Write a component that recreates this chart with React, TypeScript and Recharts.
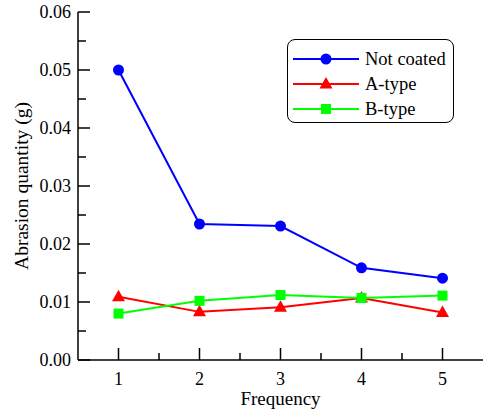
import React from "react";
import { LineChart, Line, XAxis, YAxis, Legend, Label } from "recharts";

const frequency = [1, 2, 3, 4, 5];
const notCoated = [0.05, 0.02345, 0.0231, 0.0159, 0.0141];
const aType = [0.0109, 0.0083, 0.0091, 0.0107, 0.0082];
const bType = [0.008, 0.0102, 0.0112, 0.0107, 0.0111];

const xTicks = [1, 1.5, 2, 2.5, 3, 3.5, 4, 4.5, 5];
const yTicks = [0, 0.005, 0.01, 0.015, 0.02, 0.025, 0.03, 0.035, 0.04, 0.045, 0.05, 0.055, 0.06];

const seriesNames = ["Not coated", "A-type", "B-type"];
const seriesColors = ["#0000ff", "#ff0000", "#00ff00"];

const data = frequency.map((f, i) => ({
  f,
  nc: notCoated[i],
  a: aType[i],
  b: bType[i],
}));

const FONT = "'Liberation Serif', 'Times New Roman', serif";

const Circle = (props: any) => {
  const { cx, cy, fill } = props;
  if (cx == null || cy == null) return null;
  return <circle cx={cx} cy={cy} r={5.5} fill={fill} />;
};
const Tri = (props: any) => {
  const { cx, cy, fill } = props;
  if (cx == null || cy == null) return null;
  return <polygon points={`${cx},${cy - 7} ${cx + 6.5},${cy + 4.5} ${cx - 6.5},${cy + 4.5}`} fill={fill} />;
};
const Sq = (props: any) => {
  const { cx, cy, fill } = props;
  if (cx == null || cy == null) return null;
  return <rect x={cx - 5} y={cy - 5} width={10} height={10} fill={fill} />;
};

const XTick = (props: any) => {
  const { x, y, payload } = props;
  const v = payload.value;
  const major = Math.abs(v - Math.round(v)) < 1e-6;
  return (
    <g>
      <line x1={x} x2={x} y1={y} y2={y - (major ? 12 : 7)} stroke="#000" strokeWidth={1.5} />
      {major && (
        <text x={x} y={y + 25} textAnchor="middle" fontSize={18} fontFamily={FONT} fill="#000">
          {v}
        </text>
      )}
    </g>
  );
};

const YTick = (props: any) => {
  const { x, y, payload } = props;
  const v = payload.value;
  const major = Math.abs(v * 100 - Math.round(v * 100)) < 1e-6;
  return (
    <g>
      <line x1={x} x2={x + (major ? 12 : 8)} y1={y} y2={y} stroke="#000" strokeWidth={1.5} />
      {major && (
        <text x={x - 7} y={y} dy="0.35em" textAnchor="end" fontSize={18} fontFamily={FONT} fill="#000">
          {v.toFixed(2)}
        </text>
      )}
    </g>
  );
};

const LegendBox = () => {
  const markers = [
    (c: string) => <circle cx={33} cy={9} r={5.5} fill={c} />,
    (c: string) => <polygon points={`33,2 39.5,13.5 26.5,13.5`} fill={c} />,
    (c: string) => <rect x={28} y={4} width={10} height={10} fill={c} />,
  ];
  return (
    <div
      style={{
        border: "1.5px solid #000",
        borderRadius: 8,
        width: 167,
        height: 84,
        boxSizing: "border-box",
        padding: "6px 0 0 5px",
        fontFamily: FONT,
        fontSize: 18.5,
        background: "#fff",
        textAlign: "left",
      }}
    >
      {seriesNames.map((n, i) => (
        <div key={n} style={{ display: "flex", alignItems: "center", height: 25 }}>
          <svg width={72} height={18} style={{ display: "block" }}>
            <line x1={0} x2={66} y1={9} y2={9} stroke={seriesColors[i]} strokeWidth={2} />
            {markers[i](seriesColors[i])}
          </svg>
          <span style={{ lineHeight: "18px" }}>{n}</span>
        </div>
      ))}
    </div>
  );
};

export default function App() {
  return (
    <div style={{ position: "absolute", left: 0, top: 0, background: "#fff" }}>
      <LineChart
        width={488}
        height={413}
        data={data}
        margin={{ top: 12, right: 5, bottom: 0, left: 0 }}
      >
        <XAxis
          dataKey="f"
          type="number"
          domain={[0.5, 5.5]}
          ticks={xTicks}
          interval={0}
          height={53}
          tickSize={0}
          tickMargin={0}
          tickLine={false}
          axisLine={{ stroke: "#000", strokeWidth: 1.5 }}
          tick={<XTick />}
        >
          <Label
            content={(p: any) => {
              const vb = p.viewBox;
              return (
                <text x={vb.x + vb.width / 2} y={vb.y + 45} textAnchor="middle" fontSize={19} fontFamily={FONT} fill="#000">
                  Frequency
                </text>
              );
            }}
          />
        </XAxis>
        <XAxis
          xAxisId="top"
          orientation="top"
          type="number"
          domain={[0.5, 5.5]}
          height={0}
          tick={false}
          tickLine={false}
          axisLine={{ stroke: "#000", strokeWidth: 1.5 }}
        />
        <YAxis
          type="number"
          domain={[0, 0.06]}
          ticks={yTicks}
          interval={0}
          width={78}
          tickSize={0}
          tickMargin={0}
          tickLine={false}
          axisLine={{ stroke: "#000", strokeWidth: 1.5 }}
          tick={<YTick />}
        >
          <Label
            content={(p: any) => {
              const vb = p.viewBox;
              const cx = vb.x + 21;
              const cy = vb.y + vb.height / 2;
              return (
                <text
                  x={cx}
                  y={cy}
                  transform={`rotate(-90 ${cx} ${cy})`}
                  textAnchor="middle"
                  dy="0.35em"
                  fontSize={19.5}
                  fontFamily={FONT}
                  fill="#000"
                >
                  Abrasion quantity (g)
                </text>
              );
            }}
          />
        </YAxis>
        <YAxis
          yAxisId="right"
          orientation="right"
          domain={[0, 0.06]}
          width={0}
          tick={false}
          tickLine={false}
          axisLine={{ stroke: "#000", strokeWidth: 1.5 }}
        />
        <Legend
          layout="horizontal"
          verticalAlign="middle"
          align="center"
          wrapperStyle={{ left: 287, top: 39, width: 170, height: 84 }}
          content={() => <LegendBox />}
        />
        <Line
          dataKey="nc"
          name={seriesNames[0]}
          stroke={seriesColors[0]}
          fill={seriesColors[0]}
          strokeWidth={2}
          dot={<Circle />}
          activeDot={false}
          isAnimationActive={false}
        />
        <Line
          dataKey="a"
          name={seriesNames[1]}
          stroke={seriesColors[1]}
          fill={seriesColors[1]}
          strokeWidth={2}
          dot={<Tri />}
          activeDot={false}
          isAnimationActive={false}
        />
        <Line
          dataKey="b"
          name={seriesNames[2]}
          stroke={seriesColors[2]}
          fill={seriesColors[2]}
          strokeWidth={2}
          dot={<Sq />}
          activeDot={false}
          isAnimationActive={false}
        />
      </LineChart>
    </div>
  );
}
